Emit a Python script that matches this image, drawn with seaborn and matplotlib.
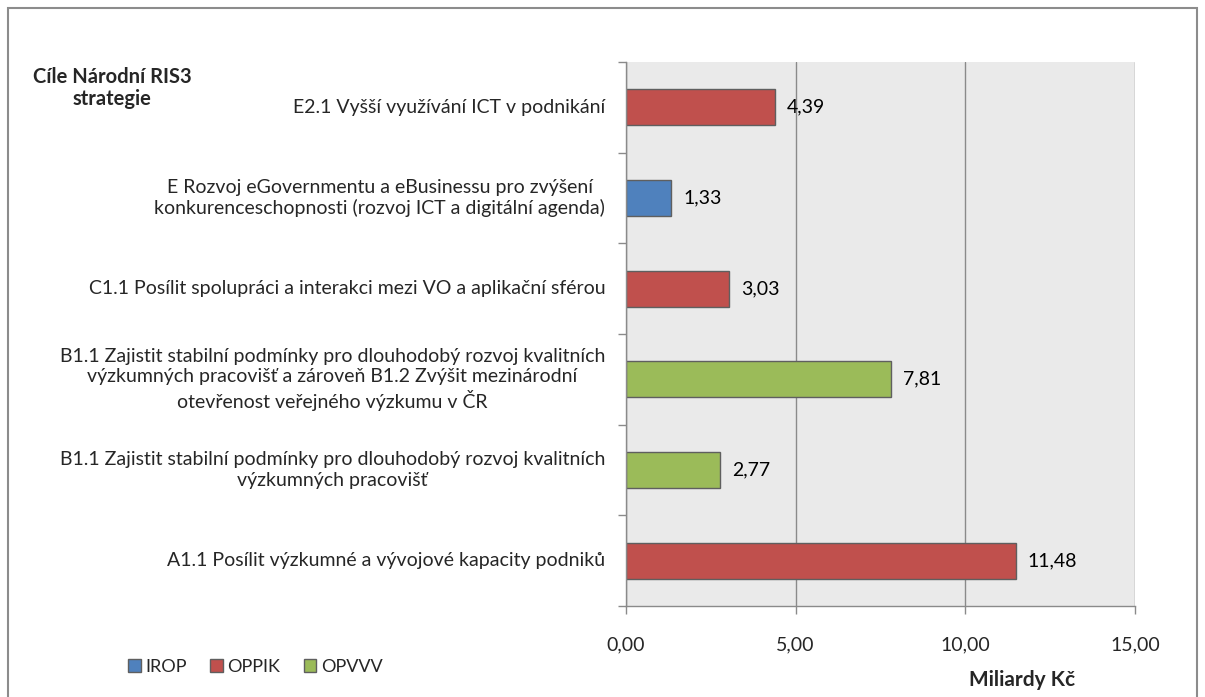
import matplotlib
matplotlib.use("Agg")
import matplotlib.pyplot as plt
import matplotlib.patches as mpatches
from matplotlib.ticker import FuncFormatter, FixedLocator
import pandas as pd
import seaborn as sns

# --- data ---------------------------------------------------------------
cile = [
    "E2.1 Vyšší využívání ICT v podnikání",
    "E Rozvoj eGovernmentu a eBusinessu pro zvýšení\nkonkurenceschopnosti (rozvoj ICT a digitální agenda)",
    "C1.1 Posílit spolupráci a interakci mezi VO a aplikační sférou",
    "B1.1 Zajistit stabilní podmínky pro dlouhodobý rozvoj kvalitních\nvýzkumných pracovišť a zároveň B1.2 Zvýšit mezinárodní\notevřenost veřejného výzkumu v ČR",
    "B1.1 Zajistit stabilní podmínky pro dlouhodobý rozvoj kvalitních\nvýzkumných pracovišť",
    "A1.1 Posílit výzkumné a vývojové kapacity podniků",
]
miliardy = [4.39, 1.33, 3.03, 7.81, 2.77, 11.48]
program = ["OPPIK", "IROP", "OPPIK", "OPVVV", "OPVVV", "OPPIK"]
programy = ["IROP", "OPPIK", "OPVVV"]
barvy = {"IROP": "#4F81BD", "OPPIK": "#C0504D", "OPVVV": "#9BBB59"}
x_ticks = [0, 5, 10, 15]

df = pd.DataFrame({"cil": cile, "hodnota": miliardy, "program": program})

sns.set_theme(style="white")
plt.rcParams["font.family"] = ["Lato", "DejaVu Sans"]

fig = plt.figure(figsize=(12.05, 6.97), dpi=100)
ax = fig.add_axes([626 / 1205, 1 - 606 / 697, 509 / 1205, 544 / 697])
ax.set_facecolor("#EAEAEA")

sns.barplot(data=df, x="hodnota", y="cil", hue="program", hue_order=programy,
            palette=barvy, saturation=1, dodge=False, width=0.4, orient="h",
            edgecolor="#5F5F5F", linewidth=1, legend=False, ax=ax)

for i, v in enumerate(miliardy):
    ax.text(v + 0.35, i, f"{v:.2f}".replace(".", ","), va="center", ha="left",
            fontsize=14, color="black")

# popisky kategorii (vlastni text kvuli radkovani)
for i, c in enumerate(cile):
    ax.text(-0.041, i, c, transform=ax.get_yaxis_transform(), ha="right",
            va="center", multialignment="center", linespacing=1.25, fontsize=14)

# osy
ax.set_xlim(0, 15)
ax.set_ylim(len(cile) - 0.5, -0.5)
ax.xaxis.set_major_locator(FixedLocator(x_ticks))
ax.xaxis.set_major_formatter(FuncFormatter(lambda v, p: f"{v:.2f}".replace(".", ",")))
ax.set_yticks(range(len(cile)))
ax.set_yticklabels([])
ax.grid(axis="x", color="#8A8A8A", linewidth=1)
ax.set_axisbelow(True)
ax.set_xlabel("")
ax.set_ylabel("")
for s in ["top", "right"]:
    ax.spines[s].set_visible(False)
for s in ["left", "bottom"]:
    ax.spines[s].set_color("#8A8A8A")
    ax.spines[s].set_linewidth(1)

ax.tick_params(axis="x", which="major", length=6, width=1, color="#8A8A8A",
               direction="out", labelsize=14, pad=16, bottom=True)
ax.yaxis.set_minor_locator(FixedLocator([i - 0.5 for i in range(len(cile) + 1)]))
ax.tick_params(axis="y", which="minor", length=6, width=1, color="#8A8A8A",
               direction="out", left=True)
ax.tick_params(axis="y", which="major", length=0)

# texty
fig.text(112 / 1205, 1 - 88 / 697, "Cíle Národní RIS3\nstrategie", ha="center",
         va="center", fontsize=14.5, fontweight="bold", multialignment="center",
         linespacing=1.15)
fig.text(1022 / 1205, 1 - 680 / 697, "Miliardy Kč", ha="center", va="center",
         fontsize=15, fontweight="bold")

handles = [mpatches.Patch(facecolor=barvy[p], edgecolor="#5F5F5F", label=p)
           for p in programy]
fig.legend(handles=handles, loc="center left", bbox_to_anchor=(121 / 1205, 1 - 667 / 697),
           ncol=3, frameon=False, fontsize=13, handlelength=0.7, handleheight=0.7,
           handletextpad=0.25, columnspacing=1.3, borderaxespad=0)

# ramecek grafu
fig.patches.append(mpatches.Rectangle((8 / 1205, -0.01), 1189 / 1205, 1 - 8 / 697 + 0.01,
                                      transform=fig.transFigure, fill=False,
                                      edgecolor="#8C8C8C", linewidth=1.5))

fig.savefig("out.png", dpi=100)
